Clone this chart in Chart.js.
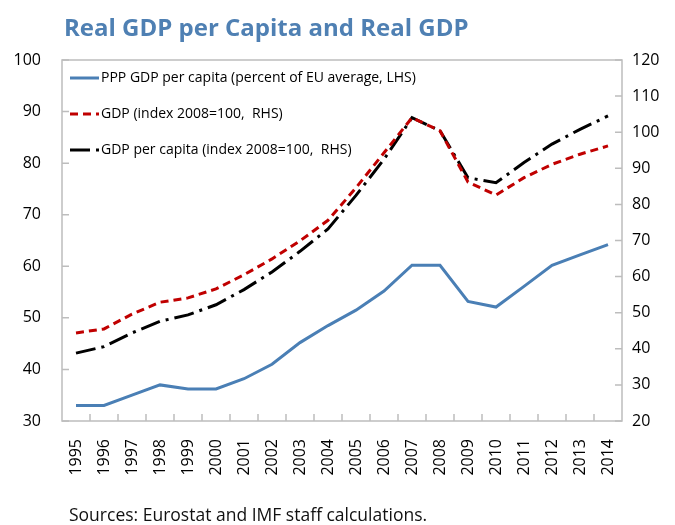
<!DOCTYPE html>
<html>
<head>
<meta charset="utf-8">
<script src="https://cdn.jsdelivr.net/npm/chart.js@4.4.1/dist/chart.umd.min.js"></script>
<style>
  html, body { margin: 0; padding: 0; background: #fff; }
  #wrap { position: relative; width: 675px; height: 525px; overflow: hidden; }
  canvas { position: absolute; left: 0; top: 0; }
  #title { position: absolute; left: 64px; top: 11px; font: bold 24px 'Open Sans', sans-serif; line-height: 1.362; color: #4f80b3; white-space: nowrap; }
  #source { position: absolute; left: 69px; top: 503px; font: 17.5px 'Open Sans', sans-serif; line-height: 1.362; color: #111; white-space: nowrap; }
</style>
</head>
<body>
<div id="wrap">
  <canvas id="chart" width="675" height="525"></canvas>
  <div id="title">Real GDP per Capita and Real GDP</div>
  <div id="source">Sources: Eurostat and IMF staff calculations.</div>
</div>
<script>
const years = ['1995', '1996', '1997', '1998', '1999', '2000', '2001', '2002', '2003', '2004',
  '2005', '2006', '2007', '2008', '2009', '2010', '2011', '2012', '2013', '2014'];
// percent of EU average, left axis
const pppPerCapita = [33, 33, 35, 37, 36.2, 36.2, 38.2, 41, 45.2, 48.5, 51.5, 55.2, 60.2, 60.2, 53.2, 52.1, 56.1, 60.2, 62.2, 64.2];
// index 2008=100, right axis
const gdpIndex = [44.4, 45.5, 49.6, 52.9, 54.1, 56.6, 60.5, 64.9, 69.9, 75.6, 84.6, 94.3, 104, 100.4, 86.2, 82.6, 87.4, 91.1, 93.9, 96.2];
const gdpPerCapitaIndex = [38.8, 40.6, 44.4, 47.6, 49.4, 52.2, 56.4, 61.3, 67, 73.2, 82.5, 92.5, 104, 100.4, 87.4, 86, 91.6, 96.7, 100.8, 104.5];

const leftTicks = { min: 30, max: 100, step: 10 };
const rightTicks = { min: 20, max: 120, step: 10 };

const FONT = "'Open Sans', sans-serif";
const FRAME = '#bdbdbd';

// box around the plot, short inward tick marks, legend inside the plot
const framePlugin = {
  id: 'frameAndLegend',
  beforeDatasetsDraw(chart) {
    const { ctx, chartArea: a, scales } = chart;
    ctx.save();
    ctx.strokeStyle = FRAME;
    ctx.lineWidth = 1.5;
    ctx.strokeRect(a.left, a.top, a.right - a.left, a.bottom - a.top);
    ctx.beginPath();
    scales.y.ticks.forEach((t, i) => {
      const y = scales.y.getPixelForTick(i);
      ctx.moveTo(a.left, y); ctx.lineTo(a.left + 7, y);
    });
    scales.y1.ticks.forEach((t, i) => {
      const y = scales.y1.getPixelForTick(i);
      ctx.moveTo(a.right - 7, y); ctx.lineTo(a.right, y);
    });
    for (let i = 1; i < years.length; i++) {
      const x = (scales.x.getPixelForValue(i - 1) + scales.x.getPixelForValue(i)) / 2;
      ctx.moveTo(x, a.bottom - 7); ctx.lineTo(x, a.bottom);
    }
    ctx.stroke();
    ctx.restore();
  },
  afterDatasetsDraw(chart) {
    const { ctx } = chart;
    ctx.save();
    ctx.font = '14px ' + FONT;
    ctx.textBaseline = 'middle';
    chart.data.datasets.forEach((ds, i) => {
      const y = 78 + i * 36;
      ctx.strokeStyle = ds.borderColor;
      ctx.lineWidth = ds.borderWidth;
      ctx.setLineDash(ds.borderDash || []);
      ctx.beginPath();
      ctx.moveTo(70, y); ctx.lineTo(99, y);
      ctx.stroke();
      ctx.setLineDash([]);
      ctx.fillStyle = '#000';
      ctx.fillText(ds.label, 101, y);
    });
    ctx.restore();
  }
};

new Chart(document.getElementById('chart').getContext('2d'), {
  type: 'line',
  data: {
    labels: years,
    datasets: [
      {
        label: 'PPP GDP per capita (percent of EU average, LHS)',
        data: pppPerCapita,
        yAxisID: 'y',
        borderColor: '#4a7fb5',
        borderWidth: 3,
        pointRadius: 0,
        tension: 0,
      },
      {
        label: 'GDP (index 2008=100,  RHS)',
        data: gdpIndex,
        yAxisID: 'y1',
        borderColor: '#c00000',
        borderWidth: 3,
        borderDash: [8, 5],
        pointRadius: 0,
        tension: 0,
      },
      {
        label: 'GDP per capita (index 2008=100,  RHS)',
        data: gdpPerCapitaIndex,
        yAxisID: 'y1',
        borderColor: '#000000',
        borderWidth: 3,
        borderDash: [20, 6, 3, 6],
        pointRadius: 0,
        tension: 0,
      },
    ],
  },
  options: {
    responsive: false,
    animation: false,
    layout: { padding: { top: 60, left: 0, right: 0, bottom: 0 } },
    plugins: {
      legend: { display: false },
      tooltip: { enabled: false },
    },
    scales: {
      x: {
        offset: true,
        grid: { display: false },
        border: { display: false },
        ticks: {
          autoSkip: false,
          minRotation: 90,
          maxRotation: 90,
          padding: 10,
          color: '#000',
          font: { family: FONT, size: 16 },
        },
        afterFit: (s) => { s.height = 104; },
      },
      y: {
        position: 'left',
        min: leftTicks.min,
        max: leftTicks.max,
        grid: { display: false, drawTicks: false },
        border: { display: false },
        ticks: {
          stepSize: leftTicks.step,
          padding: 21,
          color: '#000',
          font: { family: FONT, size: 16 },
        },
        afterFit: (s) => { s.width = 62; },
      },
      y1: {
        position: 'right',
        min: rightTicks.min,
        max: rightTicks.max,
        grid: { display: false, drawTicks: false },
        border: { display: false },
        ticks: {
          stepSize: rightTicks.step,
          padding: 10,
          color: '#000',
          font: { family: FONT, size: 16 },
        },
        afterFit: (s) => { s.width = 53; },
      },
    },
  },
  plugins: [framePlugin],
});
</script>
</body>
</html>
